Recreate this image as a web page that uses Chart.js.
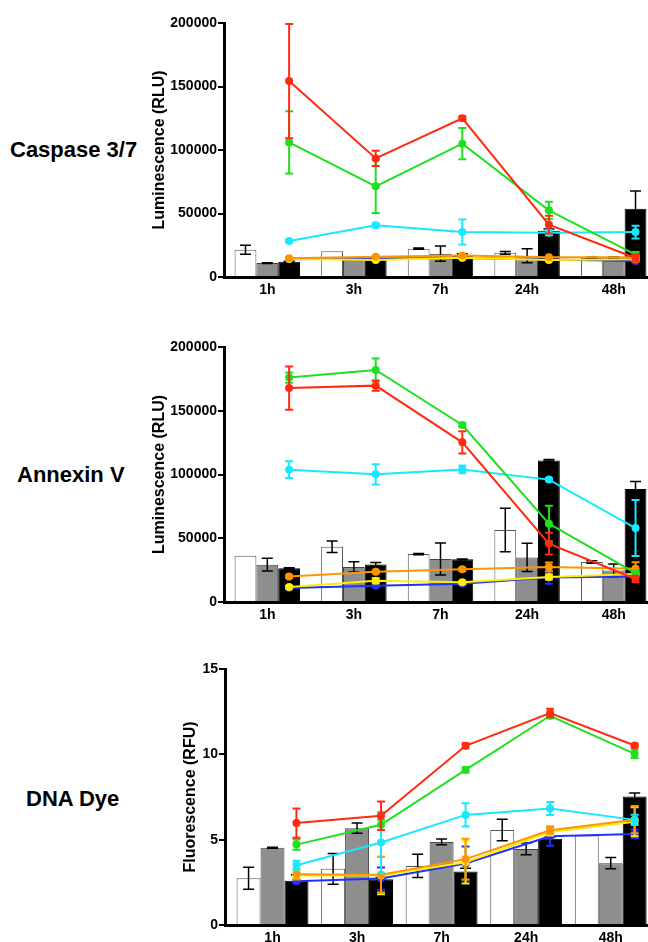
<!DOCTYPE html>
<html>
<head>
<meta charset="utf-8">
<script src="https://cdn.jsdelivr.net/npm/chart.js@4.4.1/dist/chart.umd.min.js"></script>
<style>
  html, body { margin: 0; padding: 0; width: 648px; height: 942px; overflow: hidden; background: #fff; }
  .label { position: absolute; font: bold 22px "Liberation Sans", Arial, sans-serif; line-height: 22px; color: #000; white-space: nowrap; }
  .panel { position: absolute; }
</style>
</head>
<body>
<div class="label" style="left:10px; top:139px;">Caspase 3/7</div>
<div class="label" style="left:17px; top:464px;">Annexin V</div>
<div class="label" style="left:26px; top:788px;">DNA Dye</div>

<div class="panel" style="left:150px; top:0px; width:511px; height:307px;"><canvas id="caspaseChart"></canvas></div>
<div class="panel" style="left:150px; top:320px; width:511px; height:312px;"><canvas id="annexinChart"></canvas></div>
<div class="panel" style="left:181px; top:640px; width:476px; height:315px;"><canvas id="dnaChart"></canvas></div>

<script>
// time points
const timeLabels = ['1h', '3h', '7h', '24h', '48h'];

// Caspase 3/7 (RLU) - bars
const caspWhite = [21500, 20300, 22300, 19000, 15000];
const caspWhiteErr = [3500, 0, 500, 1000, 500];
const caspGray = [11000, 13400, 18400, 16800, 15200];
const caspGrayErr = [300, 0, 6000, 5500, 500];
const caspBlack = [12000, 13400, 17600, 36500, 53800];
const caspBlackErr = [500, 500, 800, 1200, 14000];
// Caspase 3/7 - lines
const caspRed = [154300, 93400, 125000, 41200, 15000];
const caspRedErr = [45000, 6000, 1500, 7000, 3000];
const caspGreen = [106000, 71400, 105000, 52500, 17600];
const caspGreenErr = [24500, 21000, 12300, 6800, 2000];
const caspCyan = [28300, 40700, 35400, 34900, 35400];
const caspCyanErr = [1000, 1500, 9800, 2000, 5000];
const caspBlue = [14000, 14500, 15000, 13800, 12600];
const caspBlueErr = [500, 500, 500, 500, 1000];
const caspYellow = [14200, 13400, 15200, 13400, 13900];
const caspYellowErr = [500, 500, 500, 500, 1000];
const caspOrange = [14700, 16000, 17000, 15500, 15500];
const caspOrangeErr = [500, 500, 1000, 500, 1000];

// Annexin V (RLU) - bars
const annWhite = [36300, 43400, 37600, 56500, 31400];
const annWhiteErr = [0, 4500, 500, 17000, 1000];
const annGray = [29300, 27500, 33700, 35000, 24800];
const annGrayErr = [5000, 4000, 12500, 11000, 5000];
const annBlack = [26400, 29500, 33500, 111000, 88600];
const annBlackErr = [500, 1500, 300, 700, 6000];
// Annexin V - lines
const annRed = [167800, 169700, 125200, 45800, 18000];
const annRedErr = [17000, 4000, 8800, 8500, 2500];
const annGreen = [176000, 182000, 138800, 61400, 22700];
const annGreenErr = [4000, 9000, 1500, 14000, 2000];
const annCyan = [103800, 100100, 104000, 96000, 58000];
const annCyanErr = [6500, 8000, 3000, 1000, 22000];
const annBlue = [11000, 12800, 14400, 19300, 20000];
const annBlueErr = [500, 1000, 500, 5000, 1000];
const annYellow = [11800, 16700, 15400, 19600, 22000];
const annYellowErr = [1000, 2000, 1000, 2000, 1000];
const annOrange = [20000, 23800, 25600, 27500, 26100];
const annOrangeErr = [1000, 1000, 1000, 3500, 5000];

// DNA Dye (RFU) - bars
const dnaWhite = [2.74, 3.29, 3.46, 5.57, 5.24];
const dnaWhiteErr = [0.65, 0.9, 0.68, 0.63, 0];
const dnaGray = [4.52, 5.67, 4.87, 4.46, 3.62];
const dnaGrayErr = [0.03, 0.3, 0.17, 0.34, 0.33];
const dnaBlack = [2.6, 2.68, 3.13, 5.05, 7.53];
const dnaBlackErr = [0.35, 0.1, 0.2, 0.1, 0.2];
// DNA Dye - lines
const dnaRed = [5.97, 6.4, 10.5, 12.42, 10.52];
const dnaRedErr = [0.86, 0.84, 0.15, 0.25, 0.1];
const dnaGreen = [4.71, 5.87, 9.09, 12.26, 10.03];
const dnaGreenErr = [0.3, 0.3, 0.15, 0.15, 0.25];
const dnaCyan = [3.5, 4.83, 6.45, 6.83, 6.16];
const dnaCyanErr = [0.26, 1.8, 0.68, 0.38, 0.3];
const dnaBlue = [2.57, 2.72, 3.6, 5.2, 5.33];
const dnaBlueErr = [0.1, 0.65, 1.0, 0.55, 0.25];
const dnaYellow = [2.9, 2.9, 3.68, 5.45, 6.05];
const dnaYellowErr = [0.2, 1.1, 1.25, 0.2, 0.85];
const dnaOrange = [2.97, 2.95, 3.86, 5.55, 6.17];
const dnaOrangeErr = [0.3, 1.05, 1.2, 0.2, 0.8];

const RED = '#ff2a10';
const GREEN = '#1fe01f';
const CYAN = '#18e8ff';
const BLUE = '#1e32ff';
const YELLOW = '#ffee00';
const ORANGE = '#ff9500';
const FONT = '"Liberation Sans", Arial, sans-serif';

// draws +/- error bars with caps after each dataset
const errorBarPlugin = {
    id: 'errorBars',
    afterDatasetDraw(chart, args) {
        const ds = chart.data.datasets[args.index];
        if (!ds.errors) return;
        const ctx = chart.ctx;
        const yScale = chart.scales.y;
        const area = chart.chartArea;
        ctx.save();
        ctx.beginPath();
        ctx.rect(area.left, area.top - 10, area.right - area.left, area.bottom - area.top + 10);
        ctx.clip();
        ctx.strokeStyle = ds.errorColor;
        ctx.lineWidth = ds.errorWidth;
        args.meta.data.forEach((el, i) => {
            const e = ds.errors[i];
            if (!e) return;
            const v = ds.data[i].y;
            const yTop = yScale.getPixelForValue(v + e);
            const yBot = yScale.getPixelForValue(Math.max(v - e, 0));
            const half = ds.capWidth / 2;
            ctx.beginPath();
            ctx.moveTo(el.x, yTop);
            ctx.lineTo(el.x, yBot);
            ctx.moveTo(el.x - half, yTop);
            ctx.lineTo(el.x + half, yTop);
            ctx.moveTo(el.x - half, yBot);
            ctx.lineTo(el.x + half, yBot);
            ctx.stroke();
        });
        ctx.restore();
    }
};

function barSet(label, values, errors, fill, border) {
    return {
        type: 'bar',
        label: label,
        order: 3,
        data: values.map((v, i) => ({ x: i, y: v })),
        backgroundColor: fill,
        borderColor: border,
        borderWidth: 1,
        borderSkipped: 'start',
        errors: errors,
        errorColor: '#000',
        errorWidth: 1.5,
        capWidth: 11
    };
}

function lineSet(label, values, errors, color, shift) {
    return {
        type: 'line',
        label: label,
        order: 1,
        data: values.map((v, i) => ({ x: i + shift, y: v })),
        borderColor: color,
        backgroundColor: color,
        borderWidth: 2,
        pointRadius: 4,
        pointBorderWidth: 0,
        pointBackgroundColor: color,
        errors: errors,
        errorColor: color,
        errorWidth: 2,
        capWidth: 8
    };
}

function makeChart(id, datasets, p) {
    const ctx = document.getElementById(id).getContext('2d');
    return new Chart(ctx, {
        data: { datasets: datasets },
        options: {
            responsive: true,
            maintainAspectRatio: false,
            animation: false,
            layout: { padding: { top: p.padTop, right: 0, bottom: 0, left: 0 } },
            plugins: {
                legend: { display: false },
                tooltip: { enabled: false }
            },
            datasets: {
                bar: { categoryPercentage: p.catPct, barPercentage: 1 }
            },
            scales: {
                x: {
                    type: 'linear',
                    offset: false,
                    min: p.xMin,
                    max: p.xMax,
                    afterBuildTicks: s => { s.ticks = timeLabels.map((t, i) => ({ value: i })); },
                    afterFit: s => { s.height = 30; },
                    grid: { display: false, drawTicks: false, offset: false },
                    border: { display: true, color: '#000', width: 3 },
                    ticks: {
                        callback: v => timeLabels[v],
                        color: '#000',
                        font: { family: FONT, size: 14, weight: 'bold' },
                        padding: 5,
                        autoSkip: false,
                        maxRotation: 0
                    }
                },
                y: {
                    type: 'linear',
                    min: 0,
                    max: p.yMax,
                    afterFit: s => { s.width = p.yWidth; },
                    grid: { drawOnChartArea: false, drawTicks: true, tickLength: 6, color: '#000', lineWidth: 2 },
                    border: { display: true, color: '#000', width: 3 },
                    ticks: {
                        stepSize: p.yStep,
                        callback: v => String(v),
                        color: '#000',
                        font: { family: FONT, size: 14, weight: 'bold' },
                        padding: 1
                    },
                    title: {
                        display: true,
                        text: p.yTitle,
                        color: '#000',
                        font: { family: FONT, size: 16, weight: 'bold' },
                        padding: 0
                    }
                }
            }
        },
        plugins: [errorBarPlugin]
    });
}

// Caspase 3/7
makeChart('caspaseChart', [
    lineSet('Red', caspRed, caspRedErr, RED, 0.252),
    lineSet('Green', caspGreen, caspGreenErr, GREEN, 0.252),
    lineSet('Cyan', caspCyan, caspCyanErr, CYAN, 0.252),
    lineSet('Orange', caspOrange, caspOrangeErr, ORANGE, 0.252),
    lineSet('Yellow', caspYellow, caspYellowErr, YELLOW, 0.252),
    lineSet('Blue', caspBlue, caspBlueErr, BLUE, 0.252),
    barSet('White', caspWhite, caspWhiteErr, '#ffffff', '#555555'),
    barSet('Gray', caspGray, caspGrayErr, '#8e8e8e', '#444444'),
    barSet('Black', caspBlack, caspBlackErr, '#000000', '#000000')
], { padTop: 23, xMin: -0.5, xMax: 4.5, catPct: 0.756, yMax: 200000, yStep: 50000, yWidth: 74, yTitle: 'Luminescence (RLU)' });

// Annexin V
makeChart('annexinChart', [
    lineSet('Red', annRed, annRedErr, RED, 0.252),
    lineSet('Green', annGreen, annGreenErr, GREEN, 0.252),
    lineSet('Cyan', annCyan, annCyanErr, CYAN, 0.252),
    lineSet('Orange', annOrange, annOrangeErr, ORANGE, 0.252),
    lineSet('Yellow', annYellow, annYellowErr, YELLOW, 0.252),
    lineSet('Blue', annBlue, annBlueErr, BLUE, 0.252),
    barSet('White', annWhite, annWhiteErr, '#ffffff', '#555555'),
    barSet('Gray', annGray, annGrayErr, '#8e8e8e', '#444444'),
    barSet('Black', annBlack, annBlackErr, '#000000', '#000000')
], { padTop: 27, xMin: -0.5, xMax: 4.5, catPct: 0.756, yMax: 200000, yStep: 50000, yWidth: 74, yTitle: 'Luminescence (RLU)' });

// DNA Dye
makeChart('dnaChart', [
    lineSet('Red', dnaRed, dnaRedErr, RED, 0.283),
    lineSet('Green', dnaGreen, dnaGreenErr, GREEN, 0.283),
    lineSet('Cyan', dnaCyan, dnaCyanErr, CYAN, 0.283),
    lineSet('Orange', dnaOrange, dnaOrangeErr, ORANGE, 0.283),
    lineSet('Yellow', dnaYellow, dnaYellowErr, YELLOW, 0.283),
    lineSet('Blue', dnaBlue, dnaBlueErr, BLUE, 0.283),
    barSet('White', dnaWhite, dnaWhiteErr, '#ffffff', '#555555'),
    barSet('Gray', dnaGray, dnaGrayErr, '#8e8e8e', '#444444'),
    barSet('Black', dnaBlack, dnaBlackErr, '#000000', '#000000')
], { padTop: 29, xMin: -0.562, xMax: 4.5, catPct: 0.85, yMax: 15, yStep: 5, yWidth: 44, yTitle: 'Fluorescence (RFU)' });
</script>
</body>
</html>
